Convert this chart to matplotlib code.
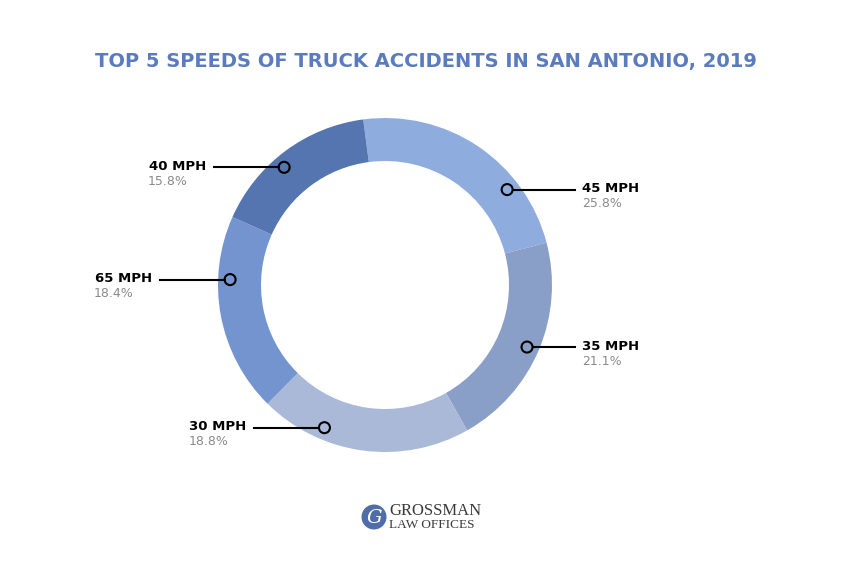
import numpy as np
import matplotlib
matplotlib.use("Agg")
import matplotlib.pyplot as plt
from matplotlib.patches import Wedge, Circle

labels = ["45 MPH", "35 MPH", "30 MPH", "65 MPH", "40 MPH"]
values = [25.8, 21.1, 18.8, 18.4, 15.8]          # printed percentages
shares = [23.0, 20.9, 20.6, 19.25, 16.25]       # arc sizes as drawn in the reference
colors = ["#8FACDF", "#8A9FC7", "#A9B9D7", "#7394CF", "#5475B0"]
marker_angles = [38, -23.6, -113, 178, 130.6]

W, H = 850, 564
fig = plt.figure(figsize=(W/100, H/100), dpi=100)
ax = fig.add_axes([0, 0, 1, 1])
ax.set_xlim(0, W); ax.set_ylim(0, H); ax.axis("off")

cx, cy = 385, H - 285
R, r = 167, 124
start = 97.5
total = sum(shares)
ang = start
FONT = "DejaVu Sans"
for lab, v, s, c, ma in zip(labels, values, shares, colors, marker_angles):
    span = s / total * 360
    a1, a0 = ang, ang - span
    ax.add_patch(Wedge((cx, cy), R, a0, a1, width=R - r, facecolor=c, edgecolor="none"))
    m = np.deg2rad(ma)
    mx, my = cx + 155 * np.cos(m), cy + 155 * np.sin(m)
    if np.cos(m) > 0:
        ax.plot([mx + 5.5, 575], [my, my], color="black", lw=1.5, zorder=3)
        tx, ha = 582, "left"
    else:
        ax.plot([mx - 70, mx - 5.5], [my, my], color="black", lw=1.5, zorder=3)
        tx, ha = mx - 78, "right"
    ax.add_patch(Circle((mx, my), 5.5, facecolor="none", edgecolor="black", lw=1.5, zorder=4))
    t = ax.text(tx, my + 1, lab, ha=ha, va="center", fontsize=9.5, fontweight="bold", family=FONT, color="black")
    if ha == "left":
        ax.text(tx, my - 14, f"{v}%", ha="left", va="center", fontsize=9, color="#8a8a8a", family=FONT)
    else:
        ax.text(tx - 58, my - 14, f"{v}%", ha="left", va="center", fontsize=9, color="#8a8a8a", family=FONT)
    ang = a0

ax.text(W/2 + 1, H - 62, "TOP 5 SPEEDS OF TRUCK ACCIDENTS IN SAN ANTONIO, 2019", ha="center", va="center",
        fontsize=14, fontweight="bold", color="#5A7BBD", family=FONT)

# logo
ax.add_patch(Circle((374, H - 517), 12.5, facecolor="#4F6EA8", edgecolor="none"))
ax.text(374, H - 518, "G", ha="center", va="center", fontsize=14, color="white", family="DejaVu Serif", style="italic")
ax.text(389, H - 511, "GROSSMAN", ha="left", va="center", fontsize=12, color="#3a3a3a", family="Liberation Serif")
ax.text(389, H - 525, "LAW OFFICES", ha="left", va="center", fontsize=9.5, color="#3a3a3a", family="Liberation Serif")

fig.savefig("out.png", dpi=100, facecolor="white")
